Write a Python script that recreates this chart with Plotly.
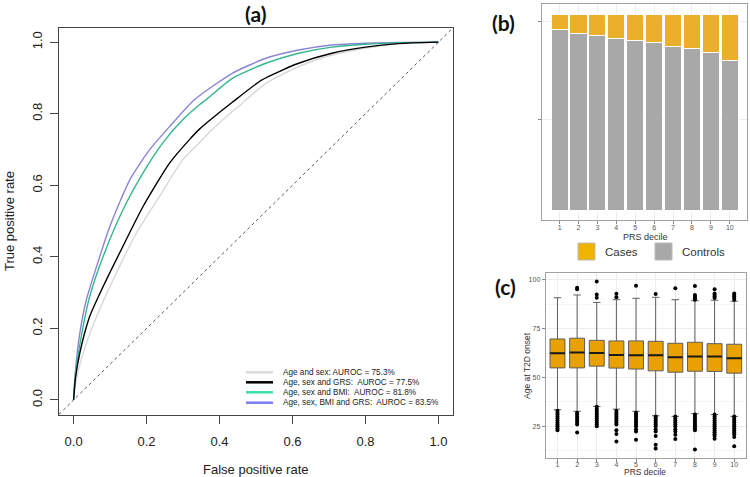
import plotly.graph_objects as go

W, H = 750, 477

# ---------------- Panel (a): ROC curves ----------------
fpr_as = [0, 0.006, 0.026, 0.063, 0.108, 0.172, 0.235, 0.299, 0.345, 0.372, 0.435, 0.463, 0.527, 0.617, 0.708, 0.8, 0.89, 1.0]
tpr_as = [0, 0.05, 0.131, 0.233, 0.335, 0.466, 0.568, 0.671, 0.719, 0.748, 0.806, 0.83, 0.885, 0.932, 0.964, 0.983, 0.997, 1.0]

fpr_asg = [0, 0.005, 0.017, 0.044, 0.081, 0.135, 0.19, 0.263, 0.317, 0.345, 0.381, 0.435, 0.517, 0.617, 0.708, 0.8, 0.89, 1.0]
tpr_asg = [0, 0.06, 0.131, 0.233, 0.317, 0.429, 0.54, 0.662, 0.727, 0.757, 0.788, 0.832, 0.895, 0.941, 0.969, 0.986, 0.996, 1.0]

fpr_asb = [0, 0.005, 0.026, 0.044, 0.081, 0.135, 0.19, 0.244, 0.299, 0.345, 0.363, 0.435, 0.527, 0.617, 0.708, 0.8, 0.89, 1.0]
tpr_asb = [0, 0.07, 0.205, 0.289, 0.401, 0.531, 0.634, 0.718, 0.783, 0.825, 0.839, 0.899, 0.941, 0.969, 0.986, 0.994, 0.998, 1.0]

fpr_asbg = [0, 0.005, 0.017, 0.035, 0.063, 0.099, 0.154, 0.208, 0.263, 0.331, 0.435, 0.527, 0.617, 0.708, 0.8, 0.89, 1.0]
tpr_asbg = [0, 0.08, 0.186, 0.28, 0.373, 0.484, 0.615, 0.699, 0.764, 0.839, 0.913, 0.955, 0.978, 0.992, 0.997, 0.999, 1.0]

roc_labels = ["Age and sex: AUROC = 75.3%",
              "Age, sex and GRS:  AUROC = 77.5%",
              "Age, sex and BMI:  AUROC = 81.8%",
              "Age, sex, BMI and GRS:  AUROC = 83.5%"]
roc_tick_vals = [0, 0.2, 0.4, 0.6, 0.8, 1.0]
roc_tick_text = ["0.0", "0.2", "0.4", "0.6", "0.8", "1.0"]

# ---------------- Panel (b): proportions by PRS decile ----------------
deciles = [1, 2, 3, 4, 5, 6, 7, 8, 9, 10]
controls_frac = [0.924, 0.902, 0.893, 0.875, 0.868, 0.856, 0.834, 0.825, 0.803, 0.763]
cases_frac = [0.076, 0.098, 0.107, 0.125, 0.132, 0.144, 0.166, 0.175, 0.197, 0.237]

# ---------------- Panel (c): age at T2D onset ----------------
q1 = [54.9, 54.9, 55.8, 54.8, 54.3, 53.4, 52.7, 53.2, 53.1, 52.2]
med = [62.4, 62.8, 62.5, 61.5, 61.4, 61.4, 60.4, 60.7, 60.7, 59.8]
q3 = [69.7, 70.1, 69.0, 68.7, 68.7, 68.5, 67.5, 68.0, 67.3, 67.0]
lower_fence = [33.5, 32.7, 35.2, 33.8, 32.7, 30.4, 30.1, 31.5, 31.0, 30.1]
upper_fence = [90.8, 92.2, 88.4, 89.8, 90.5, 91.0, 89.8, 89.3, 89.5, 89.0]
outliers = {
    1: [23.0, 24.0, 25.0, 26.0, 27.0, 28.0, 29.0, 30.0, 31.0, 32.0, 33.0],
    2: [95.9, 95.2, 21.9, 26.0, 27.0, 28.0, 29.0, 30.0, 31.0, 32.0],
    3: [99.1, 92.5, 90.8, 25.0, 26.0, 27.0, 28.0, 29.0, 30.0, 31.0, 32.0, 33.0, 34.0, 35.0],
    4: [92.9, 91.0, 17.3, 21.1, 23.0, 26.0, 27.0, 28.0, 29.0, 30.0, 31.0, 32.0, 33.0],
    5: [96.9, 18.2, 22.4, 23.5, 25.0, 26.0, 27.0, 28.0, 29.0, 30.0, 31.0, 32.0],
    6: [92.7, 13.6, 15.6, 20.0, 22.4, 23.5, 25.0, 26.0, 27.0, 28.0, 29.0, 30.0],
    7: [95.6, 18.5, 20.7, 22.4, 23.5, 25.0, 26.0, 27.0, 28.0, 29.0, 30.0],
    8: [96.8, 92.2, 91.3, 90.5, 89.8, 13.1, 23.0, 24.0, 25.0, 26.0, 27.0, 28.0, 29.0, 30.0, 31.0],
    9: [95.2, 93.0, 92.2, 91.4, 90.6, 18.7, 20.0, 21.0, 22.0, 23.0, 24.0, 25.0, 26.0, 27.0, 28.0, 29.0, 30.0, 31.0],
    10: [93.0, 92.2, 91.4, 90.6, 89.8, 14.8, 19.6, 21.0, 22.0, 23.0, 24.0, 25.0, 26.0, 27.0, 28.0, 29.0, 30.0],
}

FONT = "Liberation Sans, Arial, sans-serif"
TITLE_FONT = "Lato, Open Sans, sans-serif"

def px(x):
    return x / W

def py(y):
    return 1 - y / H

fig = go.Figure()

# ROC curves
curve_cols = ["#D8D8D8", "#000000", "#36B591", "#8A84D6"]
leg_cols = ["#DCDCDC", "#000000", "#3DDCA8", "#7E7CF0"]
series = [(fpr_as, tpr_as), (fpr_asg, tpr_asg), (fpr_asb, tpr_asb), (fpr_asbg, tpr_asbg)]
order = [0, 3, 2, 1]
for i in order:
    fx, fy = series[i]
    fig.add_trace(go.Scatter(x=fx, y=fy, mode="lines",
                             line=dict(color=curve_cols[i], width=1.4, shape="spline", smoothing=0.6),
                             xaxis="x", yaxis="y", showlegend=False, hoverinfo="skip"))

# Panel (b) bars
fig.add_trace(go.Bar(x=deciles, y=controls_frac, marker=dict(color="#A8A8A8", line=dict(color="white", width=1)),
                     xaxis="x2", yaxis="y2", showlegend=False, width=0.9))
fig.add_trace(go.Bar(x=deciles, y=cases_frac, marker=dict(color="#EBAF2C", line=dict(color="white", width=1)),
                     xaxis="x2", yaxis="y2", showlegend=False, width=0.9))

# Panel (c) boxes
fig.add_trace(go.Box(x=deciles, q1=q1, median=med, q3=q3, lowerfence=lower_fence, upperfence=upper_fence,
                     fillcolor="#E8A100", line=dict(color="#5E5E5E", width=1), width=0.76,
                     boxpoints=False, xaxis="x3", yaxis="y3", showlegend=False, hoverinfo="skip"))
mx, my = [], []
for d, m in zip(deciles, med):
    mx += [d - 0.38, d + 0.38, None]
    my += [m, m, None]
fig.add_trace(go.Scatter(x=mx, y=my, mode="lines", line=dict(color="#1a1a1a", width=2),
                         xaxis="x3", yaxis="y3", showlegend=False, hoverinfo="skip"))
ox, oy = [], []
for d in deciles:
    for v in outliers[d]:
        ox.append(d)
        oy.append(v)
fig.add_trace(go.Scatter(x=ox, y=oy, mode="markers", marker=dict(color="black", size=4),
                         xaxis="x3", yaxis="y3", showlegend=False, hoverinfo="skip"))

axis_a = dict(showline=True, mirror=True, linecolor="#444", linewidth=1.2, ticks="outside", ticklen=8,
              tickcolor="#444", showgrid=False, zeroline=False,
              tickfont=dict(family=FONT, size=13, color="#222"))
gg_axis = dict(showline=True, mirror=True, linecolor="#A0A0A0", linewidth=1, ticks="outside", ticklen=3,
               tickcolor="#888", showgrid=True, gridcolor="#EDEDED", gridwidth=1, zeroline=False,
               tickfont=dict(family=FONT, size=7, color="#555"))

fig.update_layout(
    width=W, height=H, margin=dict(l=0, r=0, t=0, b=0),
    paper_bgcolor="white", plot_bgcolor="white",
    barmode="stack", bargap=0.1,
    xaxis=dict(domain=[px(59), px(453)], range=[-0.04, 1.04], anchor="y",
               tickvals=roc_tick_vals, ticktext=roc_tick_text, ticklabelstandoff=6, **axis_a),
    yaxis=dict(domain=[py(415), py(27.5)], range=[-0.042, 1.041], anchor="x",
               tickvals=roc_tick_vals, ticktext=roc_tick_text, tickangle=-90, ticklabelstandoff=3, **axis_a),
    xaxis2=dict(domain=[px(542), px(747)], range=[0.07, 10.91], anchor="y2", tickvals=deciles,
                ticklabelstandoff=-2, **gg_axis),
    yaxis2=dict(domain=[py(220), py(4.3)], range=[-0.046, 1.05], anchor="x2",
                tickvals=[0.463, 0.964], ticktext=["", ""], **gg_axis),
    xaxis3=dict(domain=[px(545.7), px(746)], range=[0.4, 10.6], anchor="y3", tickvals=deciles,
                ticklabelstandoff=-3, **gg_axis),
    yaxis3=dict(domain=[py(458), py(273.3)], range=[8.8, 103.3], anchor="x3",
                tickvals=[25, 50, 75, 100],
                minor=dict(tickvals=[12.5, 37.5, 62.5, 87.5], showgrid=True, gridcolor="#F5F5F5", ticks=""),
                **gg_axis),
)

shapes = [dict(type="line", xref="x", yref="y", x0=-0.04, y0=-0.04, x1=1.04, y1=1.04,
               line=dict(color="#555", width=1, dash="dot"))]

annotations = []
for txt, x, y in [("(a)", 255, 13), ("(b)", 503, 22), ("(c)", 505, 286)]:
    annotations.append(dict(text="<b>" + txt + "</b>", x=px(x), y=py(y), xref="paper", yref="paper",
                            showarrow=False, xanchor="center", yanchor="middle",
                            font=dict(family=TITLE_FONT, size=21, color="#111")))
annotations.append(dict(text="False positive rate", x=px(256), y=py(469), xref="paper", yref="paper",
                        showarrow=False, xanchor="center", yanchor="middle",
                        font=dict(family=FONT, size=13, color="#222")))
annotations.append(dict(text="True positive rate", x=px(9), y=py(221), xref="paper", yref="paper",
                        showarrow=False, xanchor="center", yanchor="middle", textangle=-90,
                        font=dict(family=FONT, size=13, color="#222")))
annotations.append(dict(text="PRS decile", x=px(645), y=py(237), xref="paper", yref="paper",
                        showarrow=False, xanchor="center", yanchor="middle",
                        font=dict(family=FONT, size=9, color="#333")))
annotations.append(dict(text="PRS decile", x=px(645), y=py(471.5), xref="paper", yref="paper",
                        showarrow=False, xanchor="center", yanchor="middle",
                        font=dict(family=FONT, size=8.5, color="#333")))
annotations.append(dict(text="Age at T2D onset", x=px(527), y=py(366), xref="paper", yref="paper",
                        showarrow=False, xanchor="center", yanchor="middle", textangle=-90,
                        font=dict(family=FONT, size=8.5, color="#333")))

leg_y = [372.3, 382.3, 392.3, 402.7]
for i, lab in enumerate(roc_labels):
    shapes.append(dict(type="line", xref="paper", yref="paper", x0=px(246), x1=px(273),
                       y0=py(leg_y[i]), y1=py(leg_y[i]), line=dict(color=leg_cols[i], width=2.5)))
    annotations.append(dict(text=lab, x=px(281), y=py(leg_y[i]), xref="paper", yref="paper",
                            showarrow=False, xanchor="left", yanchor="middle",
                            font=dict(family=FONT, size=8.2, color="#222")))

for col, lab, x0 in [("#F0B400", "Cases", 578), ("#A8A8A8", "Controls", 655)]:
    shapes.append(dict(type="rect", xref="paper", yref="paper", x0=px(x0), x1=px(x0 + 17),
                       y0=py(260), y1=py(243), fillcolor=col, line=dict(color="#BBBBBB", width=1)))
    annotations.append(dict(text=lab, x=px(x0 + 25), y=py(252), xref="paper", yref="paper",
                            showarrow=False, xanchor="left", yanchor="middle",
                            font=dict(family=FONT, size=11.5, color="#333")))

fig.update_layout(shapes=shapes, annotations=annotations)
fig.write_html("out.html", config={"displayModeBar": False},
               post_script="document.body.style.margin='0';document.body.style.overflow='hidden';")
